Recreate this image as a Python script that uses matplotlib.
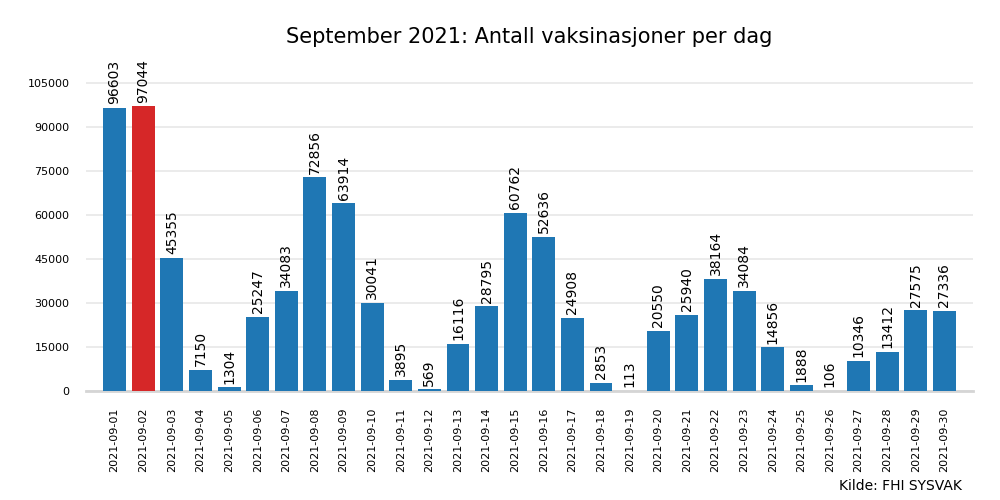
import matplotlib.pyplot as plt

dates = ["2021-09-%02d" % d for d in range(1, 31)]
doses = [96603, 97044, 45355, 7150, 1304, 25247, 34083, 72856, 63914, 30041,
         3895, 569, 16116, 28795, 60762, 52636, 24908, 2853, 113, 20550,
         25940, 38164, 34084, 14856, 1888, 106, 10346, 13412, 27575, 27336]
yticks = [0, 15000, 30000, 45000, 60000, 75000, 90000, 105000]

fig = plt.figure(figsize=(10, 5), dpi=100)
ax = fig.add_axes([0.086, 0.218, 0.887, 0.655])

top = max(doses)
colors = ["#d62728" if v == top else "#1f77b4" for v in doses]
bars = ax.bar(range(len(dates)), doses, width=0.8, color=colors, zorder=3)

for b, v in zip(bars, doses):
    ax.text(b.get_x() + b.get_width() / 2, v + 1200, str(v), rotation=90,
            ha="center", va="bottom", fontsize=10)

ax.set_xlim(-1, 30)
ax.set_ylim(0, top * 1.15)
ax.set_yticks(yticks)
ax.set_xticks(range(len(dates)))
ax.set_xticklabels(dates, rotation=90, fontsize=8)
ax.tick_params(axis="y", labelsize=8, length=0, pad=12)
ax.tick_params(axis="x", length=0, pad=12)
ax.grid(axis="y", color="#e8e8e8", linewidth=1.2, zorder=0)
for s in ["left", "right", "top"]:
    ax.spines[s].set_visible(False)
ax.spines["bottom"].set_color("#d5d5d5")
ax.spines["bottom"].set_linewidth(2)

ax.set_title("September 2021: Antall vaksinasjoner per dag", fontsize=15, y=1.037)
fig.text(0.962, 0.015, "Kilde: FHI SYSVAK", ha="right", va="bottom", fontsize=10)

fig.savefig("out.png", dpi=100)
